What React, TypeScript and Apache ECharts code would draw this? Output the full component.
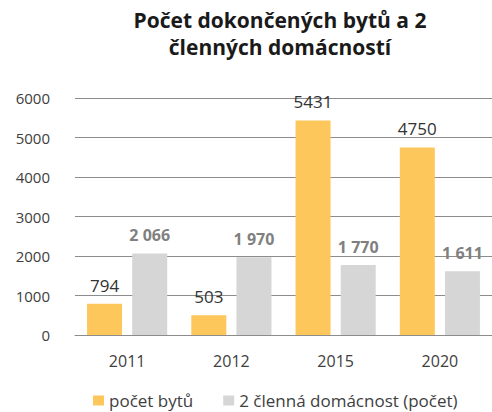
import React, { useEffect, useRef } from "react";
import * as echarts from "echarts";

const categories = ["2011", "2012", "2015", "2020"];
const seriesNames = ["počet bytů", "2 členná domácnost (počet)"];
const flats = [794, 503, 5431, 4750];
const households = [2066, 1970, 1770, 1611];
const titleText = "Počet dokončených bytů a 2\nčlenných domácností";

const FONT = "'Open Sans', 'Noto Sans', sans-serif";

export default function App() {
  const ref = useRef<HTMLDivElement>(null);
  useEffect(() => {
    if (!ref.current) return;
    const chart = echarts.init(ref.current, undefined, { renderer: "svg" });
    chart.setOption({
      animation: false,
      backgroundColor: "#ffffff",
      textStyle: { fontFamily: FONT },
      title: {
        text: titleText,
        left: 275,
        top: 1,
        textAlign: "center",
        textStyle: {
          fontFamily: FONT,
          fontSize: 21,
          fontWeight: "bold",
          color: "#1a1a1a",
          lineHeight: 27,
        },
      },
      legend: {
        left: 88,
        top: 387,
        itemWidth: 11,
        itemHeight: 10,
        itemGap: 30,
        icon: "rect",
        textStyle: { fontFamily: FONT, fontSize: 17, color: "#404040" },
        data: seriesNames,
      },
      grid: { left: 75, right: -9, top: 98, bottom: 77 },
      xAxis: {
        type: "category",
        data: categories,
        axisTick: { show: false },
        axisLine: { show: true, lineStyle: { color: "#8c8c8c", width: 1 } },
        axisLabel: { fontFamily: FONT, fontSize: 16, color: "#404040", margin: 18 },
      },
      yAxis: {
        type: "value",
        min: 0,
        max: 6000,
        interval: 1000,
        axisLine: { show: false },
        axisTick: { show: false },
        splitLine: { lineStyle: { color: "#8c8c8c", width: 1 } },
        axisLabel: {
          fontFamily: FONT,
          fontSize: 15,
          color: "#404040",
          margin: 25,
          formatter: (v: number) => String(v),
        },
      },
      series: [
        {
          name: seriesNames[0],
          type: "bar",
          data: flats,
          barWidth: 35,
          barGap: "29%",
          barCategoryGap: "25%",
          itemStyle: { color: "#FEC75C" },
          label: {
            show: true,
            position: "top",
            distance: 10,
            fontFamily: FONT,
            fontSize: 17,
            color: "#333333",
          },
        },
        {
          name: seriesNames[1],
          type: "bar",
          data: households,
          barWidth: 35,
          barGap: "29%",
          barCategoryGap: "25%",
          itemStyle: { color: "#D6D6D6" },
          label: {
            show: true,
            position: "top",
            distance: 10,
            fontFamily: FONT,
            fontSize: 16,
            fontWeight: "bold",
            color: "#808080",
            formatter: (p: any) =>
              String(p.value).replace(/\B(?=(\d{3})+(?!\d))/g, " "),
          },
        },
      ],
    });
    return () => chart.dispose();
  }, []);
  return (
    <div
      ref={ref}
      style={{ position: "fixed", left: 0, top: 0, width: 492, height: 412 }}
    />
  );
}
